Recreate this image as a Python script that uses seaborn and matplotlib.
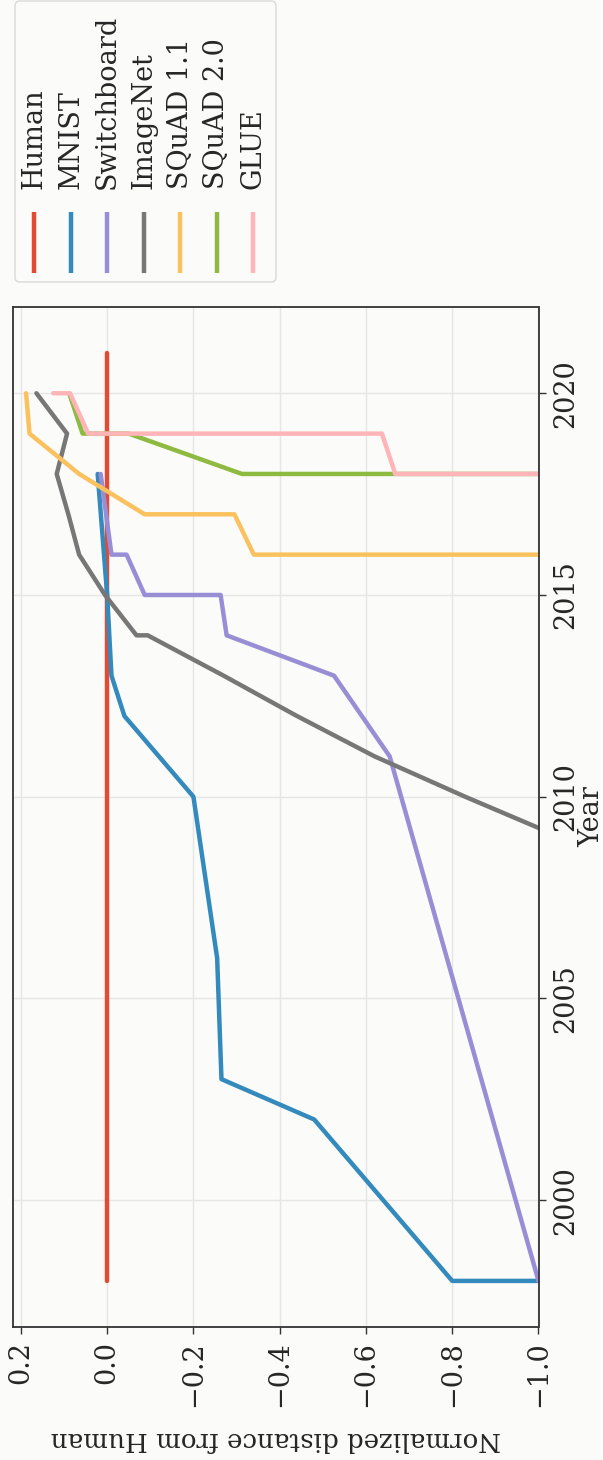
import numpy as np
import pandas as pd
import matplotlib
matplotlib.use("Agg")
import matplotlib.pyplot as plt
from matplotlib.patches import FancyBboxPatch
import seaborn as sns

# benchmark progress, normalised so that human performance = 0
NAMES = ["Human", "MNIST", "Switchboard", "ImageNet", "SQuAD 1.1", "SQuAD 2.0", "GLUE"]
COLORS = ["#E24A33", "#348ABD", "#988ED5", "#777777", "#FBC15E", "#8EBA42", "#FFB5B8"]

human_years = [1998, 2021]
human_dist = [0.0, 0.0]

mnist_years = [1998, 1998, 2002, 2003, 2006, 2010, 2012, 2013, 2015, 2018]
mnist_dist = [-1.0, -0.8, -0.48, -0.265, -0.255, -0.2, -0.04, -0.01, 0.0, 0.022]

swb_years = [1998, 2011, 2013, 2014, 2015, 2015, 2016, 2016, 2018]
swb_dist = [-1.0, -0.655, -0.526, -0.277, -0.263, -0.087, -0.045, -0.01, 0.015]

imagenet_years = [2009, 2010, 2011, 2012, 2013, 2014, 2014, 2015, 2016, 2017, 2018, 2019, 2020]
imagenet_dist = [-1.05, -0.83, -0.62, -0.44, -0.27, -0.094, -0.068, 0.005, 0.065, 0.09, 0.117, 0.093, 0.164]

squad1_years = [2016, 2016, 2017, 2017, 2018, 2019, 2020]
squad1_dist = [-1.0, -0.34, -0.295, -0.087, 0.065, 0.18, 0.188]

squad2_years = [2018, 2018, 2019, 2019, 2020]
squad2_dist = [-1.0, -0.3125, -0.05, 0.057, 0.088]

glue_years = [2018, 2018, 2019, 2019, 2020, 2020]
glue_dist = [-1.0, -0.668, -0.637, 0.044, 0.086, 0.125]

series = [(human_years, human_dist), (mnist_years, mnist_dist), (swb_years, swb_dist),
          (imagenet_years, imagenet_dist), (squad1_years, squad1_dist),
          (squad2_years, squad2_dist), (glue_years, glue_dist)]

frames = []
for name, (yrs, dist) in zip(NAMES, series):
    frames.append(pd.DataFrame({"benchmark": name, "year": yrs, "distance": dist,
                                "step": np.arange(len(yrs))}))
df = pd.concat(frames, ignore_index=True)

sns.set_style("whitegrid", {"axes.edgecolor": "#333333", "grid.color": "#e6e6e6",
                            "xtick.bottom": True, "ytick.right": True})
plt.rcParams["font.family"] = ["DejaVu Serif"]
FS = 19.5

W, H = 603, 1460
fig = plt.figure(figsize=(W / 100, H / 100), dpi=100, facecolor="#fbfbf9")

# the whole chart is laid out turned a quarter turn counter-clockwise
ax_l, ax_r, ax_t, ax_b = 12.7, 538.5, 306.5, 1327.3
ax = fig.add_axes([ax_l / W, 1 - ax_b / H, (ax_r - ax_l) / W, (ax_b - ax_t) / H])
ax.set_facecolor("#fbfbf9")

sns.lineplot(data=df, x="distance", y="year", hue="benchmark", hue_order=NAMES,
             palette=COLORS, orient="y", sort=False, estimator=None, units="benchmark",
             linewidth=3.2, legend=False, ax=ax)

ax.set_xlim(0.219, -1.0)
ax.set_ylim(1996.85, 2022.15)
ax.set_xticks([0.2, 0.0, -0.2, -0.4, -0.6, -0.8, -1.0])
ax.set_yticks([2000, 2005, 2010, 2015, 2020])
ax.yaxis.tick_right()
ax.tick_params(axis="x", labelrotation=90, length=5, width=1, pad=5, labelsize=FS, color="#333333")
ax.tick_params(axis="y", labelrotation=90, length=5, width=1, pad=5, labelsize=FS, color="#333333",
               left=False, right=True)
for lbl in ax.get_yticklabels():
    lbl.set_va("center")
for sp in ax.spines.values():
    sp.set_linewidth(1.3)
    sp.set_color("#333333")
ax.grid(True, color="#e6e6e6", linewidth=1)

ax.set_xlabel("Normalized distance from Human", fontsize=18.8, rotation=180, va="center", ha="center")
ax.xaxis.set_label_coords(0.5, -0.110)
ax.yaxis.set_label_position("right")
ax.set_ylabel("Year", fontsize=FS, rotation=90, va="center", ha="center")
ax.yaxis.set_label_coords(1.101, 0.5)

# legend, drawn by hand in pixel space because it is turned too
lax = fig.add_axes([0, 0, 1, 1], zorder=-1)
lax.set_xlim(0, W)
lax.set_ylim(H, 0)
lax.axis("off")
lax.add_patch(FancyBboxPatch((15, 1), 261, 281, boxstyle="round,pad=0,rounding_size=5",
                             facecolor="#fbfbf9", edgecolor="#d9d9d9", linewidth=1))
for i, (name, col) in enumerate(zip(NAMES, COLORS)):
    x = 34.3 + 36.5 * i
    lax.plot([x, x], [212, 273], color=col, linewidth=3.2, solid_capstyle="butt")
    lax.text(x, 189, name, rotation=90, ha="center", va="bottom", fontsize=FS)

fig.savefig("out.png", dpi=100, facecolor=fig.get_facecolor())
